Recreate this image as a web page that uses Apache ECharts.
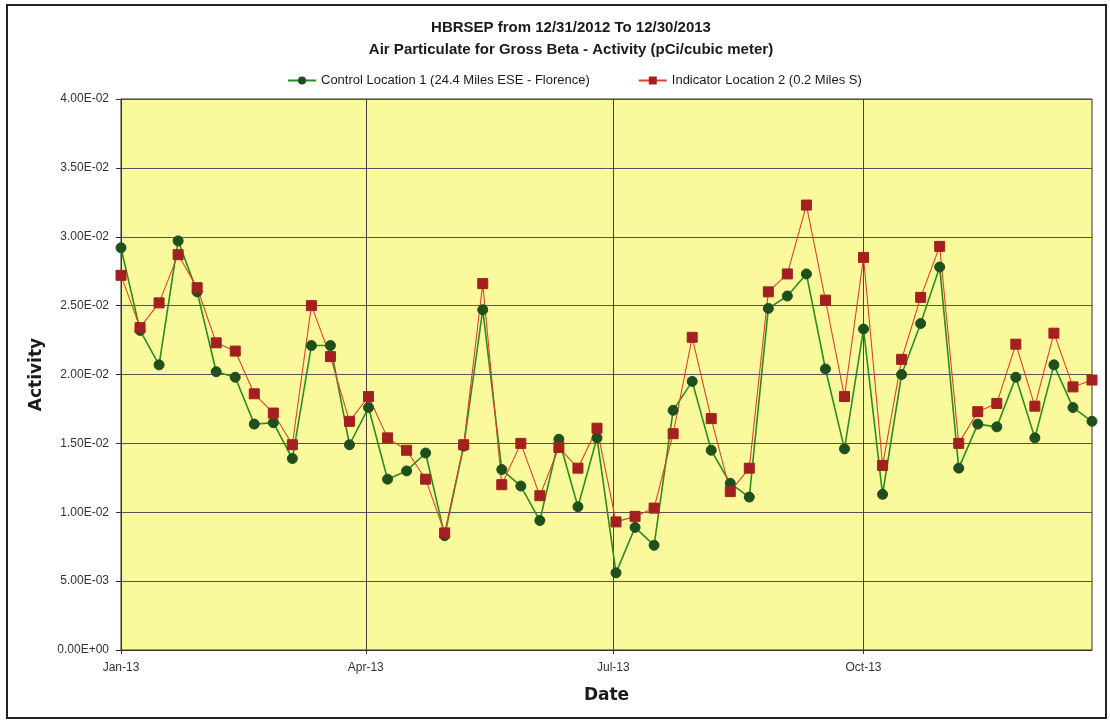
<!DOCTYPE html>
<html>
<head>
<meta charset="utf-8">
<title>HBRSEP Air Particulate Gross Beta</title>
<script src="https://cdn.jsdelivr.net/npm/echarts@6/dist/echarts.min.js"></script>
<style>
  html, body { margin: 0; padding: 0; background: #fff; }
  #chart { width: 1110px; height: 722px; }
</style>
</head>
<body>
<div id="chart"></div>
<script>
// weekly sample dates
const dates = [
  '2013-01-01', '2013-01-08', '2013-01-15', '2013-01-22', '2013-01-29',
  '2013-02-05', '2013-02-12', '2013-02-19', '2013-02-26',
  '2013-03-05', '2013-03-12', '2013-03-19', '2013-03-26',
  '2013-04-02', '2013-04-09', '2013-04-16', '2013-04-23', '2013-04-30',
  '2013-05-07', '2013-05-14', '2013-05-21', '2013-05-28',
  '2013-06-04', '2013-06-11', '2013-06-18', '2013-06-25',
  '2013-07-02', '2013-07-09', '2013-07-16', '2013-07-23', '2013-07-30',
  '2013-08-06', '2013-08-13', '2013-08-20', '2013-08-27',
  '2013-09-03', '2013-09-10', '2013-09-17', '2013-09-24',
  '2013-10-01', '2013-10-08', '2013-10-15', '2013-10-22', '2013-10-29',
  '2013-11-05', '2013-11-12', '2013-11-19', '2013-11-26',
  '2013-12-03', '2013-12-10', '2013-12-17', '2013-12-24'
]
const controlValues = [
  0.0292, 0.0232, 0.0207, 0.0297, 0.0260, 0.0202, 0.0198, 0.0164, 0.0165, 0.0139,
  0.0221, 0.0221, 0.0149, 0.0176, 0.0124, 0.0130, 0.0143, 0.0083, 0.0148, 0.0247,
  0.0131, 0.0119, 0.0094, 0.0153, 0.0104, 0.0154, 0.0056, 0.0089, 0.0076, 0.0174,
  0.0195, 0.0145, 0.0121, 0.0111, 0.0248, 0.0257, 0.0273, 0.0204, 0.0146, 0.0233,
  0.0113, 0.0200, 0.0237, 0.0278, 0.0132, 0.0164, 0.0162, 0.0198, 0.0154, 0.0207,
  0.0176, 0.0166
]
const indicatorValues = [
  0.0272, 0.0234, 0.0252, 0.0287, 0.0263, 0.0223, 0.0217, 0.0186, 0.0172, 0.0149,
  0.0250, 0.0213, 0.0166, 0.0184, 0.0154, 0.0145, 0.0124, 0.0085, 0.0149, 0.0266,
  0.0120, 0.0150, 0.0112, 0.0147, 0.0132, 0.0161, 0.0093, 0.0097, 0.0103, 0.0157,
  0.0227, 0.0168, 0.0115, 0.0132, 0.0260, 0.0273, 0.0323, 0.0254, 0.0184, 0.0285,
  0.0134, 0.0211, 0.0256, 0.0293, 0.0150, 0.0173, 0.0179, 0.0222, 0.0177, 0.0230,
  0.0191, 0.0196
]
// x axis ticks (quarterly)
const quarterTicks = ['2013-01-01', '2013-04-01', '2013-07-01', '2013-10-01']
const quarterLabels = ['Jan-13', 'Apr-13', 'Jul-13', 'Oct-13']
const seriesNames = ['Control Location 1 (24.4 Miles ESE - Florence)', 'Indicator Location 2 (0.2 Miles S)']

const fontFamily = '"Liberation Sans Narrow", "Liberation Sans", Arial, sans-serif'

function toTime (s) {
  return echarts.time.parse(s).getTime()
}
const quarterTimes = quarterTicks.map(toTime)

// 4.00E-02 style labels
function sciLabel (v) {
  if (v === 0) return '0.00E+00'
  const parts = v.toExponential(2).toUpperCase().split('E')
  const exp = parseInt(parts[1], 10)
  const sign = exp < 0 ? '-' : '+'
  const digits = Math.abs(exp) < 10 ? '0' + Math.abs(exp) : '' + Math.abs(exp)
  return parts[0] + 'E' + sign + digits
}

function pair (list) {
  return dates.map((d, i) => [toTime(d), list[i]])
}

const Options = {
  backgroundColor: '#ffffff',
  animation: false,
  title: [
    {
      text: 'HBRSEP from 12/31/2012 To 12/30/2013',
      left: 566,
      top: 15,
      textAlign: 'center',
      textStyle: { fontFamily: fontFamily, fontSize: 15, fontWeight: 'bold', color: '#1a1a1a' }
    },
    {
      text: 'Air Particulate for Gross Beta - Activity (pCi/cubic meter)',
      left: 566,
      top: 37,
      textAlign: 'center',
      textStyle: { fontFamily: fontFamily, fontSize: 15, fontWeight: 'bold', color: '#1a1a1a' }
    }
  ],
  legend: {
    top: 69,
    left: 282,
    itemGap: 48,
    itemWidth: 28,
    itemHeight: 10,
    textStyle: { fontFamily: fontFamily, fontSize: 13, color: '#1a1a1a' },
    data: seriesNames
  },
  grid: {
    left: 121,
    right: 18,
    top: 99,
    bottom: 72,
    show: true,
    backgroundColor: '#FAFA9C',
    borderColor: '#333',
    borderWidth: 1
  },
  xAxis: {
    type: 'value',
    min: toTime(dates[0]),
    max: toTime(dates[dates.length - 1]),
    name: 'Date',
    nameLocation: 'middle',
    nameGap: 37,
    nameTextStyle: { fontFamily: 'DejaVu Sans', fontSize: 17, fontWeight: 'bold', color: '#1a1a1a' },
    axisLine: { show: true, onZero: false, lineStyle: { color: '#333', width: 1 } },
    axisTick: { show: true, length: 4, customValues: quarterTimes, lineStyle: { color: '#333' } },
    axisLabel: {
      margin: 12,
      fontFamily: fontFamily,
      fontSize: 12,
      color: '#333',
      customValues: quarterTimes,
      formatter: (v) => {
        const i = quarterTimes.indexOf(v)
        return i >= 0 ? quarterLabels[i] : ''
      }
    },
    splitLine: { show: false }
  },
  yAxis: {
    type: 'value',
    min: 0,
    max: 0.04,
    interval: 0.005,
    name: 'Activity',
    nameLocation: 'middle',
    nameGap: 76,
    nameRotate: 90,
    nameTextStyle: { fontFamily: 'DejaVu Sans', fontSize: 17, fontWeight: 'bold', color: '#1a1a1a' },
    axisLine: { show: true, lineStyle: { color: '#333', width: 1 } },
    axisTick: { show: true, length: 5, lineStyle: { color: '#333' } },
    axisLabel: {
      margin: 12,
      fontFamily: fontFamily,
      fontSize: 12,
      color: '#333',
      formatter: sciLabel
    },
    splitLine: { show: true, lineStyle: { color: '#555', width: 1 } }
  },
  graphic: [
    {
      type: 'rect',
      shape: { x: 7, y: 5, width: 1099, height: 713 },
      style: { fill: null, stroke: '#222', lineWidth: 2 },
      silent: true
    }
  ],
  series: [
    {
      name: seriesNames[0],
      type: 'line',
      data: pair(controlValues),
      symbol: 'circle',
      symbolSize: 10,
      lineStyle: { color: '#2E8B22', width: 1.6 },
      itemStyle: { color: '#1F4F1F', borderColor: '#1F4F1F' },
      markLine: {
        silent: true,
        symbol: 'none',
        z: 1,
        label: { show: false },
        lineStyle: { color: '#444', width: 1, type: 'solid' },
        data: quarterTimes.slice(1).map(q => ({ xAxis: q }))
      }
    },
    {
      name: seriesNames[1],
      type: 'line',
      data: pair(indicatorValues),
      symbol: 'rect',
      symbolSize: 10,
      lineStyle: { color: '#D9442E', width: 1.1 },
      itemStyle: { color: '#A32020', borderColor: '#A32020' }
    }
  ]
}

const chart = echarts.init(document.getElementById('chart'))
chart.setOption(Options)
</script>
</body>
</html>
